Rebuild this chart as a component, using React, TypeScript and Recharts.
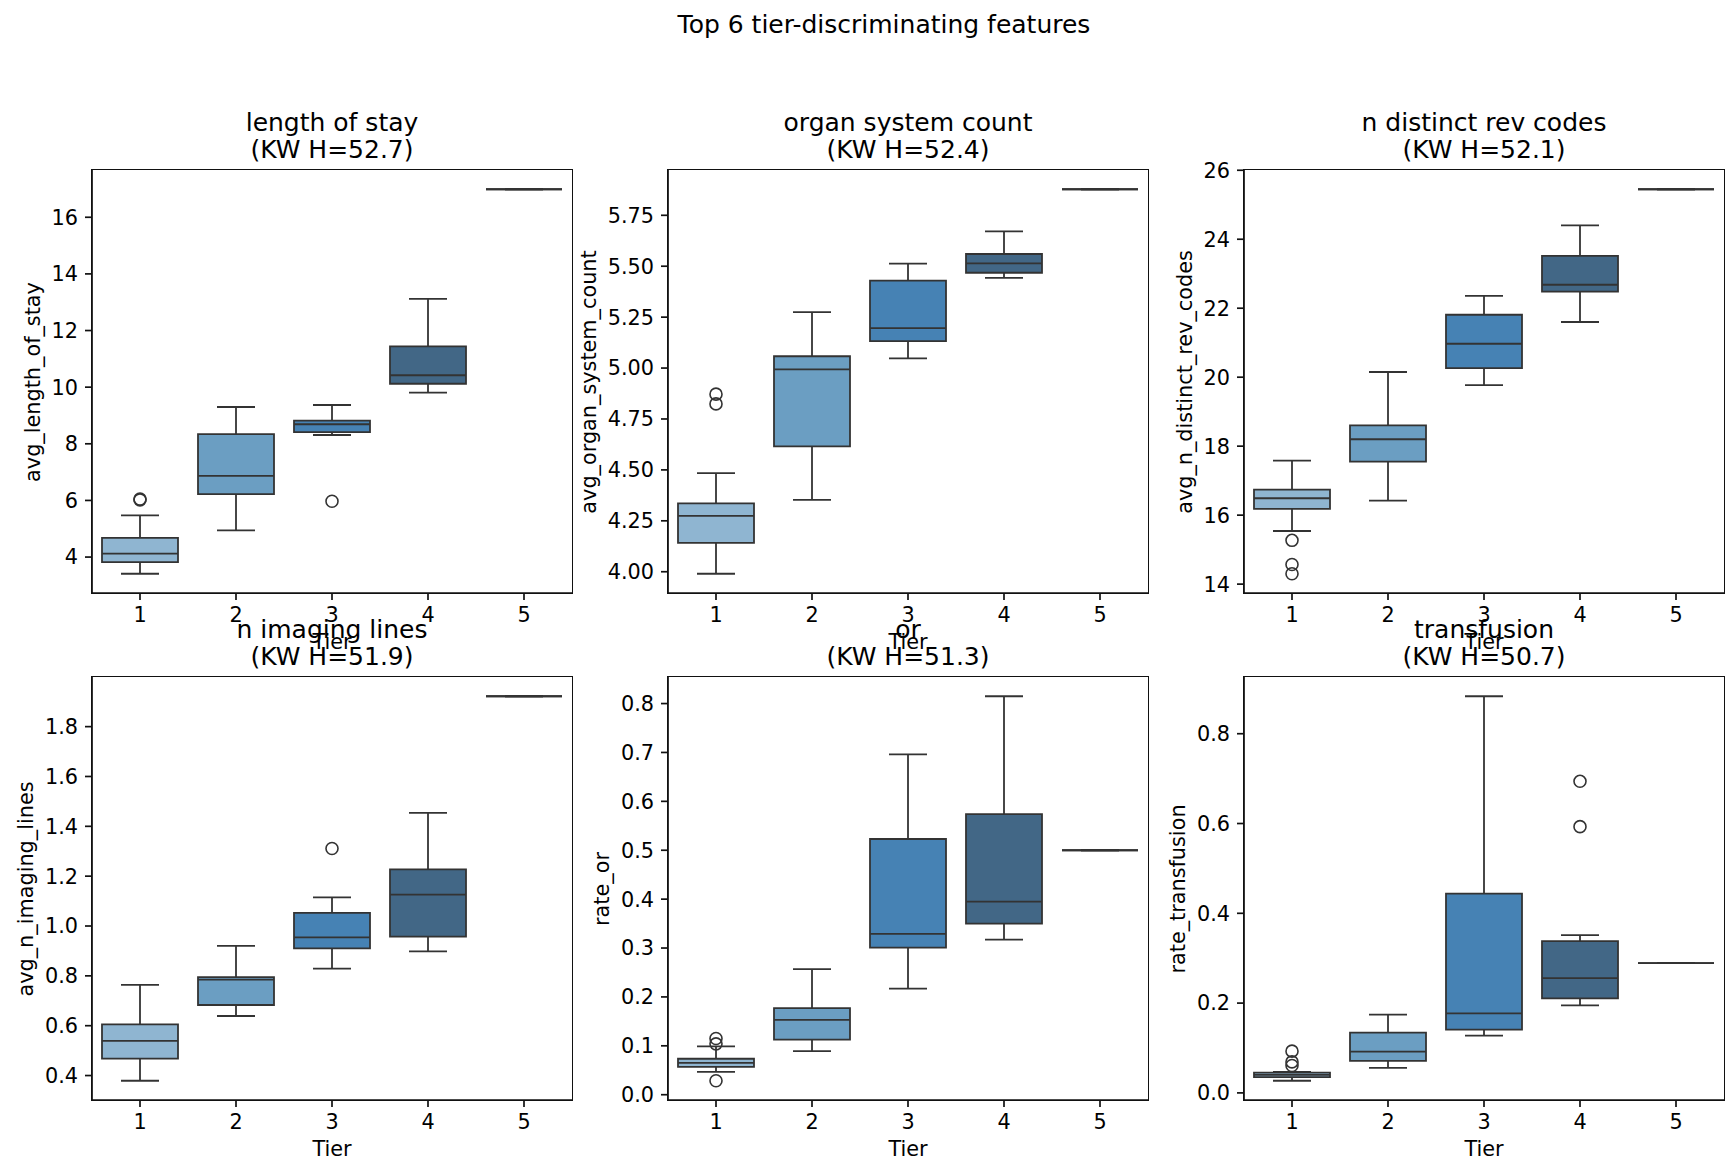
import React from 'react';
import { ComposedChart, Bar, Scatter, XAxis, YAxis } from 'recharts';

const TIERS = ['1', '2', '3', '4', '5'];

// five-number summaries per tier: [whisker low, q1, median, q3, whisker high]
const LOS_BOXES = [
  [3.41, 3.82, 4.12, 4.68, 5.47],
  [4.94, 6.22, 6.87, 8.34, 9.3],
  [8.31, 8.41, 8.69, 8.82, 9.37],
  [9.81, 10.12, 10.42, 11.44, 13.12],
  [16.99, 16.99, 16.99, 16.99, 16.99],
];
const LOS_OUTLIERS = [[6.02, 6.05], [], [5.97], [], []];

const ORGAN_BOXES = [
  [3.99, 4.142, 4.274, 4.336, 4.484],
  [4.353, 4.615, 4.994, 5.058, 5.275],
  [5.048, 5.132, 5.196, 5.429, 5.513],
  [5.443, 5.468, 5.514, 5.56, 5.671],
  [5.878, 5.878, 5.878, 5.878, 5.878],
];
const ORGAN_OUTLIERS = [[4.872, 4.824], [], [], [], []];

const REV_BOXES = [
  [15.54, 16.18, 16.49, 16.74, 17.58],
  [16.42, 17.55, 18.2, 18.6, 20.15],
  [19.77, 20.26, 20.97, 21.81, 22.36],
  [21.6, 22.48, 22.68, 23.52, 24.4],
  [25.45, 25.45, 25.45, 25.45, 25.45],
];
const REV_OUTLIERS = [[15.27, 14.57, 14.3], [], [], [], []];

const IMG_BOXES = [
  [0.379, 0.468, 0.539, 0.605, 0.764],
  [0.639, 0.683, 0.785, 0.795, 0.92],
  [0.829, 0.91, 0.954, 1.053, 1.115],
  [0.898, 0.957, 1.126, 1.227, 1.454],
  [1.922, 1.922, 1.922, 1.922, 1.922],
];
const IMG_OUTLIERS = [[], [], [1.311], [], []];

const OR_BOXES = [
  [0.0465, 0.057, 0.065, 0.0735, 0.099],
  [0.0893, 0.1126, 0.153, 0.177, 0.257],
  [0.217, 0.301, 0.329, 0.523, 0.696],
  [0.317, 0.35, 0.395, 0.574, 0.815],
  [0.5, 0.5, 0.5, 0.5, 0.5],
];
const OR_OUTLIERS = [[0.115, 0.104, 0.0285], [], [], [], []];

const TRANS_BOXES = [
  [0.027, 0.035, 0.04, 0.045, 0.047],
  [0.0557, 0.0712, 0.0917, 0.1343, 0.1744],
  [0.1277, 0.1408, 0.1769, 0.4438, 0.8835],
  [0.1949, 0.2104, 0.2555, 0.3382, 0.3513],
  [0.289, 0.289, 0.289, 0.289, 0.289],
];
const TRANS_OUTLIERS = [[0.093, 0.069, 0.061], [], [], [0.694, 0.593], []];

const TITLES = ['length of stay', 'organ system count', 'n distinct rev codes', 'n imaging lines', 'or', 'transfusion'];
const KW_H = ['52.7', '52.4', '52.1', '51.9', '51.3', '50.7'];
const Y_LABELS = [
  'avg_length_of_stay',
  'avg_organ_system_count',
  'avg_n_distinct_rev_codes',
  'avg_n_imaging_lines',
  'rate_or',
  'rate_transfusion',
];
const Y_TICKS = [
  [4, 6, 8, 10, 12, 14, 16],
  [4.0, 4.25, 4.5, 4.75, 5.0, 5.25, 5.5, 5.75],
  [14, 16, 18, 20, 22, 24, 26],
  [0.4, 0.6, 0.8, 1.0, 1.2, 1.4, 1.6, 1.8],
  [0.0, 0.1, 0.2, 0.3, 0.4, 0.5, 0.6, 0.7, 0.8],
  [0.0, 0.2, 0.4, 0.6, 0.8],
];
const TICK_DECIMALS = [0, 2, 0, 1, 1, 1];

const ALL_BOXES = [LOS_BOXES, ORGAN_BOXES, REV_BOXES, IMG_BOXES, OR_BOXES, TRANS_BOXES];
const ALL_OUTLIERS = [LOS_OUTLIERS, ORGAN_OUTLIERS, REV_OUTLIERS, IMG_OUTLIERS, OR_OUTLIERS, TRANS_OUTLIERS];

const PALETTE = ['#8fb5d1', '#6b9ec2', '#4682b4', '#426786', '#2f4a62'];
const LINE = '#333333';
const SPINE = '#111111';
const FONT = '"DejaVu Sans", sans-serif';
const TICK_FS = 20.8;
const TITLE_FS = 25;

// layout (px)
const COL_LEFT = [92, 668, 1244];
const ROW_TOP = [170, 677];
const AX_W = 480;
const AX_H = 423;
const Y_AXIS_W = 90;
const M_TOP = 20;
const M_RIGHT = 4;
const X_AXIS_H = 60;
const YLABEL_X = [33, 589, 1185, 26, 602, 1178];
const BAR_SIZE = 76;
const SPINE_W = 1.7;

type Row = { [k: string]: string | number | null };

function buildRows(boxes: number[][], outliers: number[][]): Row[] {
  return TIERS.map((tier, i) => {
    const [lo, q1, med, q3, hi] = boxes[i];
    const row: Row = { tier, lo, q1, med, q3, hi };
    for (let k = 0; k < 3; k++) row['o' + k] = outliers[i][k] ?? null;
    return row;
  });
}

// matplotlib-style autoscale: data range plus 5% each side
function domainOf(boxes: number[][], outliers: number[][]): [number, number] {
  const vals = boxes.flat().concat(outliers.flat());
  const lo = Math.min(...vals);
  const hi = Math.max(...vals);
  const pad = (hi - lo) * 0.05;
  return [lo - pad, hi + pad];
}

const WhiskerShape = (p: any) => {
  const { x, y, width, height } = p;
  const cx = x + width / 2;
  const cap = width * 0.25;
  return (
    <g>
      <line x1={cx} x2={cx} y1={y} y2={y + height} stroke={LINE} strokeWidth={1.8} />
      <line x1={cx - cap} x2={cx + cap} y1={y} y2={y} stroke={LINE} strokeWidth={1.8} />
      <line x1={cx - cap} x2={cx + cap} y1={y + height} y2={y + height} stroke={LINE} strokeWidth={1.8} />
    </g>
  );
};

const BoxShape = (p: any) => {
  const { x, y, width, height, index } = p;
  const d = `M${x},${y}h${width}v${height}h${-width}Z`;
  return <path d={d} fill={PALETTE[index]} stroke={LINE} strokeWidth={1.8} />;
};

const MedianShape = (p: any) => {
  const { x, y, width } = p;
  return <line x1={x} x2={x + width} y1={y} y2={y} stroke={LINE} strokeWidth={1.8} />;
};

const FlierShape = (p: any) => {
  if (p.cy == null || !isFinite(p.cy)) return null;
  return <circle cx={p.cx} cy={p.cy} r={6} fill="none" stroke={LINE} strokeWidth={1.6} />;
};

function Panel({ idx }: { idx: number }) {
  const col = idx % 3;
  const row = Math.floor(idx / 3);
  const boxes = ALL_BOXES[idx];
  const outs = ALL_OUTLIERS[idx];
  const data = buildRows(boxes, outs);
  const domain = domainOf(boxes, outs);
  const axLeft = COL_LEFT[col];
  const axTop = ROW_TOP[row];
  const chartW = Y_AXIS_W + AX_W + M_RIGHT;
  const chartH = M_TOP + AX_H + X_AXIS_H;
  const dec = TICK_DECIMALS[idx];
  const tickStyle = { fill: '#000', fontSize: TICK_FS, fontFamily: FONT };

  return (
    <>
      <div
        style={{
          position: 'absolute',
          left: axLeft - 100,
          width: AX_W + 200,
          top: axTop - 61.5,
          textAlign: 'center',
          fontFamily: FONT,
          fontSize: TITLE_FS,
          lineHeight: '27px',
          color: '#000',
        }}
      >
        <div>{TITLES[idx]}</div>
        <div>(KW H={KW_H[idx]})</div>
      </div>
      <div
        style={{
          position: 'absolute',
          left: YLABEL_X[idx],
          top: axTop + AX_H / 2,
          transform: 'translate(-50%, -50%) rotate(-90deg)',
          whiteSpace: 'nowrap',
          fontFamily: FONT,
          fontSize: TICK_FS,
          color: '#000',
        }}
      >
        {Y_LABELS[idx]}
      </div>
      <div
        style={{
          position: 'absolute',
          left: axLeft,
          width: AX_W,
          top: axTop + AX_H + 49,
          transform: 'translateY(-50%)',
          textAlign: 'center',
          fontFamily: FONT,
          fontSize: TICK_FS,
          color: '#000',
        }}
      >
        Tier
      </div>
      <div style={{ position: 'absolute', left: axLeft - Y_AXIS_W, top: axTop - M_TOP }}>
        <ComposedChart
          width={chartW}
          height={chartH}
          data={data}
          margin={{ top: M_TOP, right: M_RIGHT, bottom: 0, left: 0 }}
          barSize={BAR_SIZE}
          barGap={-BAR_SIZE}
        >
          <XAxis
            dataKey="tier"
            type="category"
            height={X_AXIS_H}
            tick={tickStyle}
            tickSize={7}
            tickMargin={7.5}
            stroke={SPINE}
            strokeWidth={SPINE_W}
            interval={0}
          />
          <YAxis
            type="number"
            domain={domain}
            allowDataOverflow
            ticks={Y_TICKS[idx]}
            tickFormatter={(v: number) => v.toFixed(dec)}
            width={Y_AXIS_W}
            tick={tickStyle}
            tickSize={7}
            tickMargin={7}
            stroke={SPINE}
            strokeWidth={SPINE_W}
            interval={0}
          />
          <Bar dataKey={(d: any) => [d.lo, d.hi]} shape={WhiskerShape} isAnimationActive={false} />
          <Bar dataKey={(d: any) => [d.q1, d.q3]} shape={BoxShape} isAnimationActive={false} />
          <Bar dataKey={(d: any) => [d.med, d.med]} shape={MedianShape} isAnimationActive={false} />
          {[0, 1, 2].map((k) => (
            <Scatter key={k} dataKey={'o' + k} shape={FlierShape} isAnimationActive={false} />
          ))}
        </ComposedChart>
      </div>
      {/* axes frame (top/right spines) */}
      <div
        style={{
          position: 'absolute',
          left: axLeft - SPINE_W / 2,
          top: axTop - SPINE_W / 2,
          width: AX_W + SPINE_W,
          height: AX_H + SPINE_W,
          border: `${SPINE_W}px solid ${SPINE}`,
          boxSizing: 'border-box',
          pointerEvents: 'none',
        }}
      />
    </>
  );
}

export default function App() {
  return (
    <div style={{ position: 'absolute', left: 0, top: 0, width: 1734, height: 1172, background: '#fff', overflow: 'hidden' }}>
      <div
        style={{
          position: 'absolute',
          left: 0,
          width: 1768,
          top: 24,
          transform: 'translateY(-50%)',
          textAlign: 'center',
          fontFamily: FONT,
          fontSize: TITLE_FS,
          color: '#000',
        }}
      >
        Top 6 tier-discriminating features
      </div>
      {[0, 1, 2, 3, 4, 5].map((i) => (
        <Panel key={i} idx={i} />
      ))}
    </div>
  );
}
